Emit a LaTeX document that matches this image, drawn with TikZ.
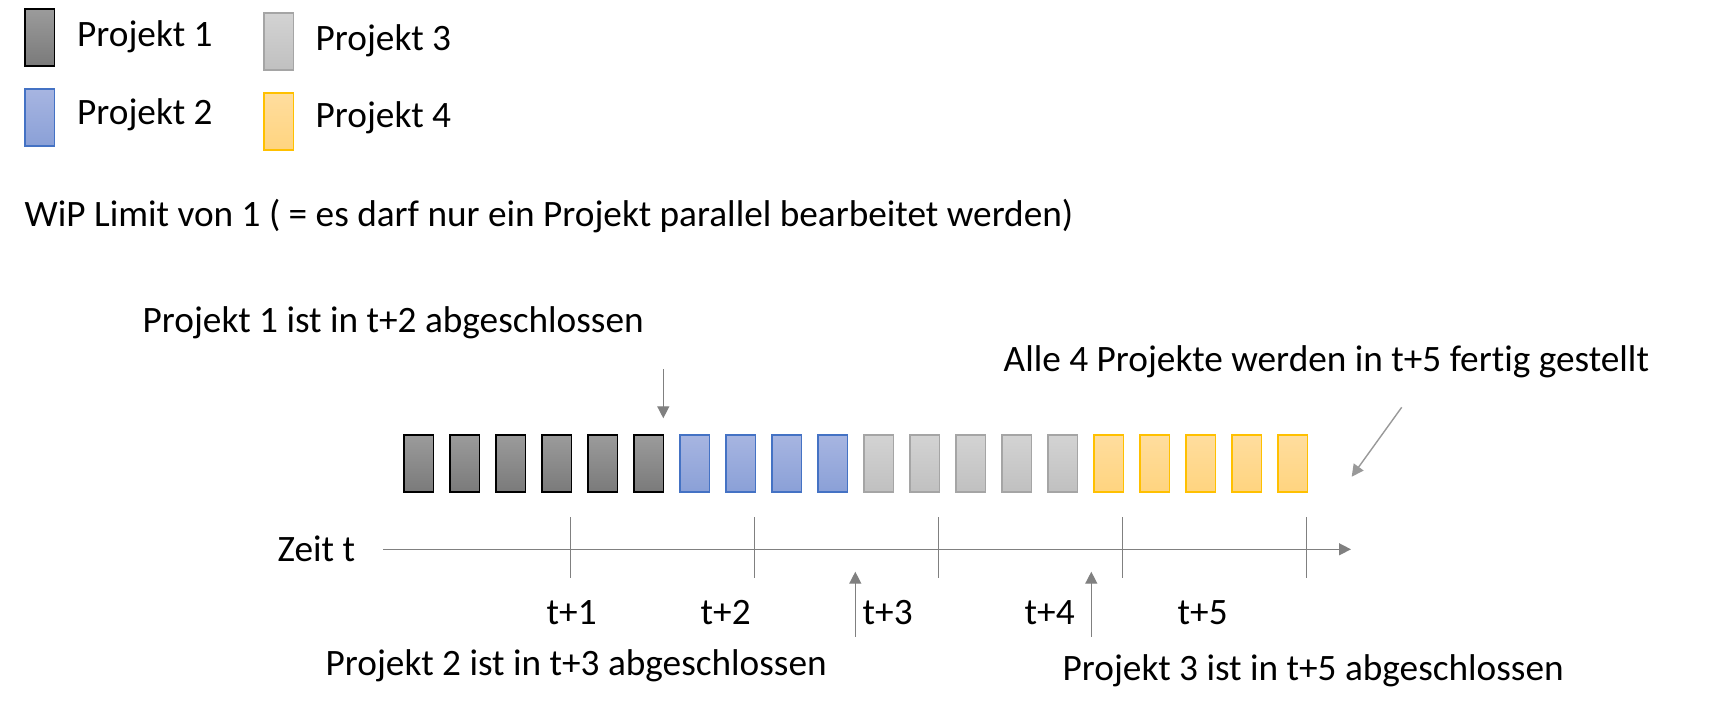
\documentclass[tikz,border=0pt]{standalone}
\usepackage{fontspec}
\setmainfont{Carlito}[Ligatures=NoCommon]
\usetikzlibrary{arrows.meta}
\definecolor{arrgray}{HTML}{808080}
\definecolor{pAtop}{HTML}{9B9B9B}\definecolor{pAbot}{HTML}{7A7A7A}\definecolor{pAdraw}{HTML}{000000}
\definecolor{pBtop}{HTML}{A7B5E1}\definecolor{pBbot}{HTML}{8AA0D7}\definecolor{pBdraw}{HTML}{4472C4}
\definecolor{pCtop}{HTML}{D3D3D3}\definecolor{pCbot}{HTML}{C0C0C0}\definecolor{pCdraw}{HTML}{A5A5A5}
\definecolor{pDtop}{HTML}{FFDD9E}\definecolor{pDbot}{HTML}{FFD47F}\definecolor{pDdraw}{HTML}{FFC000}
\tikzset{
  blk/.style={minimum width=0.293cm, minimum height=0.57cm, inner sep=0pt, anchor=north west, line width=0.35pt},
  pA/.style={blk, top color=pAtop, bottom color=pAbot, draw=pAdraw, line width=0.45pt},
  pB/.style={blk, top color=pBtop, bottom color=pBbot, draw=pBdraw},
  pC/.style={blk, top color=pCtop, bottom color=pCbot, draw=pCdraw},
  pD/.style={blk, top color=pDtop, bottom color=pDbot, draw=pDdraw},
  lbl/.style={anchor=base west, inner sep=0pt, font=\fontsize{10.6pt}{12pt}\selectfont},
  conn/.style={draw=arrgray, line width=0.4pt},
  arr/.style={conn, -{Triangle[length=0.12cm, width=0.12cm]}},
}
\begin{document}
\begin{tikzpicture}[x=0.01cm, y=-0.01cm]
\useasboundingbox (0,0) rectangle (1726,715);
% legend
\node[pA] (l1) at (24.3,8.3) {};
\node[pB] (l2) at (24.3,88.3) {};
\node[pC] (l3) at (263.3,12.3) {};
\node[pD] (l4) at (263.3,92.3) {};
\node[lbl] (t1) at (76.5,46.7) {Projekt 1};
\node[lbl] (t2) at (76.5,124) {Projekt 2};
\node[lbl] (t3) at (315,50.7) {Projekt 3};
\node[lbl] (t4) at (315,127.3) {Projekt 4};
\node[lbl] (wip) at (24,226) {WiP Limit von 1 ( = es darf nur ein Projekt parallel bearbeitet werden)};
% blocks
\foreach \i in {0,...,5} {\node[pA] (b\i) at (403.3+46*\i,434.3) {};}
\foreach \i in {6,...,9} {\node[pB] (b\i) at (403.3+46*\i,434.3) {};}
\foreach \i in {10,...,14} {\node[pC] (b\i) at (403.3+46*\i,434.3) {};}
\foreach \i in {15,...,19} {\node[pD] (b\i) at (403.3+46*\i,434.3) {};}
% axis
\coordinate (ax0) at (383,549.3);
\coordinate (ax1) at (1351,549.3);
\draw[arr] (ax0) -- (ax1);
\foreach \x [count=\k] in {570.3,754.3,938.3,1122.7,1306.3} {
  \coordinate (tk\k a) at (\x,517.3);
  \coordinate (tk\k b) at (\x,577.7);
  \draw[conn] (tk\k a) -- (tk\k b);
}
\node[lbl] (zeit) at (277,561) {Zeit t};
\node[lbl] (tp1) at (546,624) {t+1};
\node[lbl] (tp2) at (700,624) {t+2};
\node[lbl] (tp3) at (862,624) {t+3};
\node[lbl] (tp4) at (1024,624) {t+4};
\node[lbl] (tp5) at (1177,624) {t+5};
% annotations
\node[lbl] (a1) at (142,332) {Projekt 1 ist in t+2 abgeschlossen};
\node[lbl] (a4) at (1003,371.7) {Alle 4 Projekte werden in t+5 fertig gestellt};
\node[lbl] (a2) at (325,675) {Projekt 2 ist in t+3 abgeschlossen};
\node[lbl] (a3) at (1062,680) {Projekt 3 ist in t+5 abgeschlossen};
\coordinate (d1s) at (663.3,369);
\coordinate (d1e) at (663.3,418.3);
\draw[arr] (d1s) -- (d1e);
\coordinate (u1s) at (855.3,636.7);
\coordinate (u1e) at (855.3,571.7);
\draw[arr] (u1s) -- (u1e);
\coordinate (u2s) at (1091.3,636.7);
\coordinate (u2e) at (1091.3,571.7);
\draw[arr] (u2s) -- (u2e);
\coordinate (dgs) at (1401.7,407.3);
\coordinate (dge) at (1351.7,476.7);
\draw[arr, draw=arrgray!80] (dgs) -- (dge);
\end{tikzpicture}
\end{document}
